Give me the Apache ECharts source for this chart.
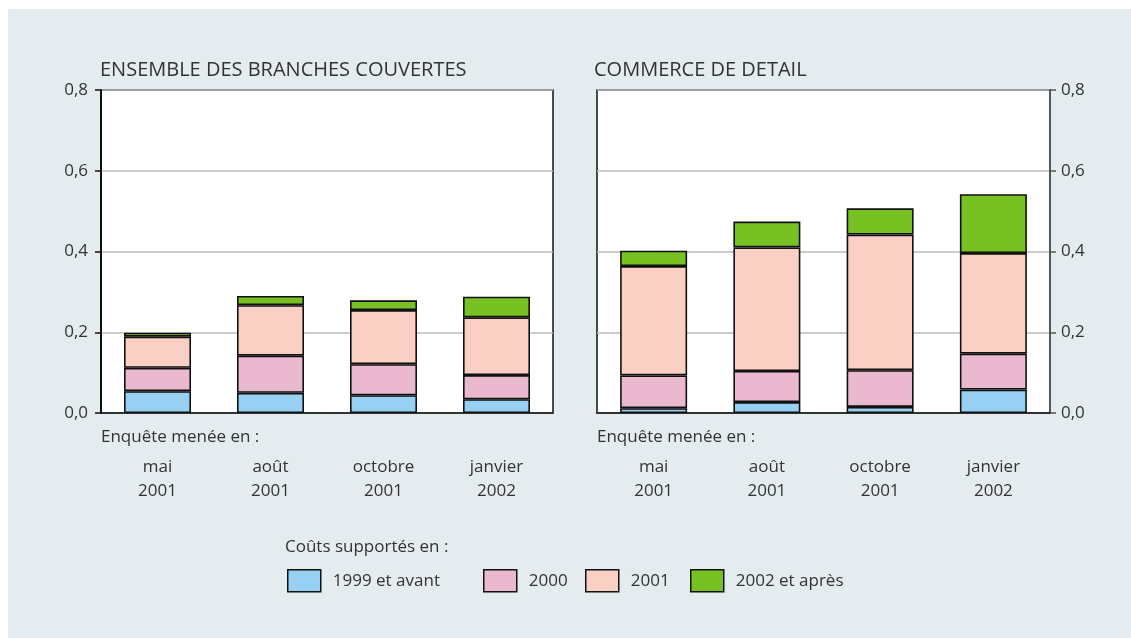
<!DOCTYPE html>
<html>
<head>
<meta charset="utf-8">
<script src="https://cdn.jsdelivr.net/npm/echarts@6/dist/echarts.min.js"></script>
<style>
  html, body { margin: 0; padding: 0; background: #fff; }
  #chart { width: 1131px; height: 638px; }
</style>
</head>
<body>
<div id="chart"></div>
<script>
// categories (survey dates)
const categories = ['mai\n2001', 'août\n2001', 'octobre\n2001', 'janvier\n2002'];
const seriesNames = ['1999 et avant', '2000', '2001', '2002 et après'];
const yTicks = [0, 0.2, 0.4, 0.6, 0.8];

// ENSEMBLE DES BRANCHES COUVERTES
const allBefore1999 = [0.054, 0.050, 0.044, 0.034];
const all2000 = [0.058, 0.092, 0.077, 0.060];
const all2001 = [0.077, 0.125, 0.134, 0.143];
const all2002 = [0.010, 0.023, 0.024, 0.051];

// COMMERCE DE DETAIL
const retailBefore1999 = [0.012, 0.027, 0.015, 0.058];
const retail2000 = [0.081, 0.077, 0.091, 0.089];
const retail2001 = [0.271, 0.306, 0.336, 0.249];
const retail2002 = [0.038, 0.064, 0.065, 0.146];

const colors = ['#97d0f2', '#eab8cf', '#facfc4', '#77c222'];
const font = 'Open Sans';
const fontSize = 17;
const textColor = '#333';

const chart = echarts.init(document.getElementById('chart'));

const fmt = v => v.toFixed(1).replace('.', ',');

function makeSeries(data, idx, stack) {
  return data.map((d, i) => ({
    name: seriesNames[i],
    type: 'bar',
    stack: stack,
    xAxisIndex: idx,
    yAxisIndex: idx,
    barWidth: 67,
    data: d,
    itemStyle: { color: colors[i], borderColor: '#111', borderWidth: 1.6 },
    emphasis: { disabled: true }
  }));
}

function yAxis(idx, pos, lineColor, margin) {
  return {
    type: 'value',
    gridIndex: idx,
    position: pos,
    min: yTicks[0],
    max: yTicks[yTicks.length - 1],
    interval: 0.2,
    axisLine: { show: true, lineStyle: { color: lineColor, width: 2 } },
    axisTick: { show: true, length: 6, lineStyle: { color: lineColor, width: 1.5 } },
    axisLabel: { formatter: fmt, color: textColor, fontFamily: font, fontSize: fontSize, margin: margin },
    splitLine: { show: true, lineStyle: { color: '#bbbbbb', width: 1.5 } }
  };
}

function xAxis(idx) {
  return {
    type: 'category',
    gridIndex: idx,
    data: categories,
    axisLine: { show: true, lineStyle: { color: '#111', width: 1.5 } },
    axisTick: { show: false },
    axisLabel: { color: textColor, fontFamily: font, fontSize: fontSize, lineHeight: 24, margin: 42 }
  };
}

const legends = [287, 483, 585, 690].map((x, i) => ({
  data: [seriesNames[i]],
  left: x,
  top: 569,
  padding: 0,
  icon: 'rect',
  itemWidth: 33,
  itemHeight: 22,
  itemGap: 0,
  textStyle: { color: textColor, fontFamily: font, fontSize: fontSize, padding: [0, 0, 0, 7] },
  itemStyle: { borderColor: '#111', borderWidth: 1.5 }
}));

const label = (x, y, text, size) => ({
  type: 'text', left: x, top: y,
  style: { text: text, fill: textColor, font: (size || fontSize) + 'px "' + font + '"' }
});

const option = {
  animation: false,
  backgroundColor: '#ffffff',
  textStyle: { fontFamily: font },
  graphic: [
    { type: 'rect', z: -10, shape: { x: 8, y: 9, width: 1123, height: 629 }, style: { fill: '#e4ecef' } },
    label(100, 60, 'ENSEMBLE DES BRANCHES COUVERTES', 20),
    label(594, 60, 'COMMERCE DE DETAIL', 20),
    label(101, 429, 'Enquête menée en :'),
    label(597, 429, 'Enquête menée en :'),
    label(285, 539, 'Coûts supportés en :')
  ],
  legend: legends,
  grid: [
    { left: 101, top: 90, width: 452, height: 323, show: true, backgroundColor: '#fff', borderColor: '#111', borderWidth: 1.5 },
    { left: 597, top: 90, width: 453, height: 323, show: true, backgroundColor: '#fff', borderColor: '#111', borderWidth: 1.5 }
  ],
  xAxis: [xAxis(0), xAxis(1)],
  yAxis: [yAxis(0, 'left', '#111', 13), yAxis(1, 'right', '#555', 11)],
  series: [
    ...makeSeries([allBefore1999, all2000, all2001, all2002], 0, 'all'),
    ...makeSeries([retailBefore1999, retail2000, retail2001, retail2002], 1, 'retail')
  ]
};

chart.setOption(option);
</script>
</body>
</html>
